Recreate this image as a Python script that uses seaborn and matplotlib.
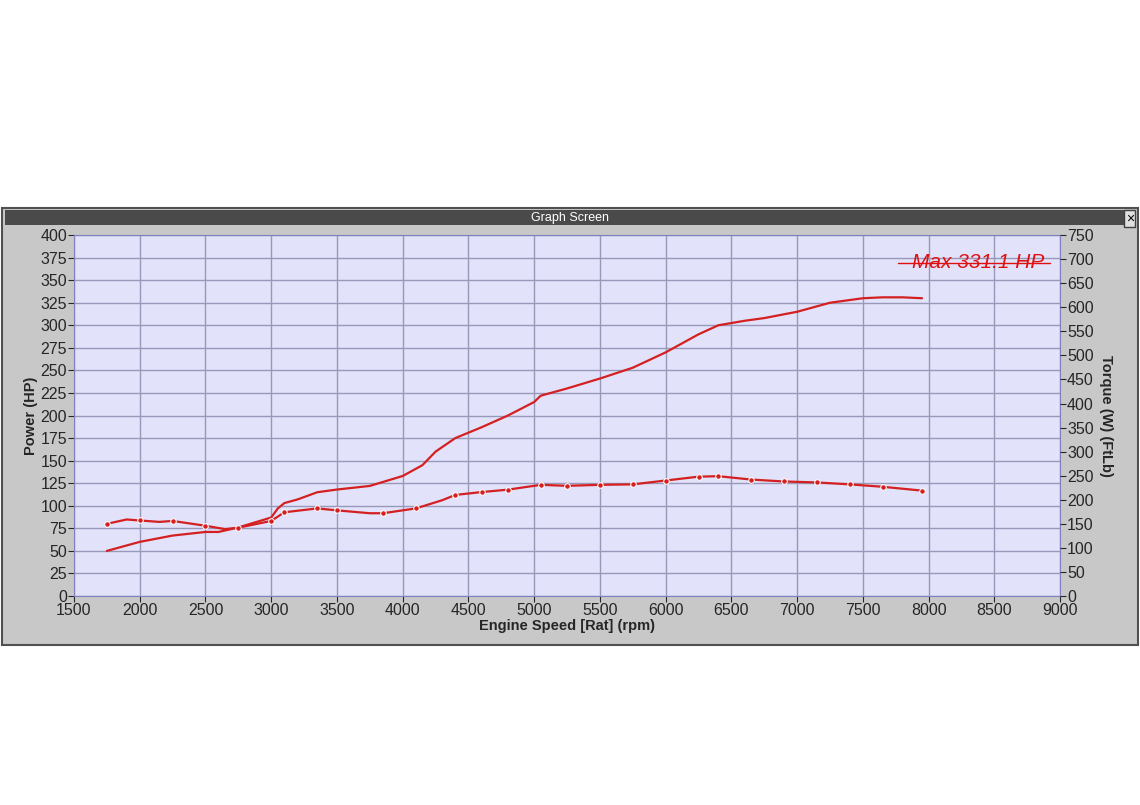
import numpy as np
import matplotlib
matplotlib.use('Agg')
import matplotlib.pyplot as plt
import seaborn as sns
import pandas as pd
from matplotlib.patches import Rectangle

# Power curve (HP)
power_rpm = [1750, 2000, 2250, 2500, 2600, 2750, 3000, 3050, 3100, 3200, 3350, 3500, 3750,
             4000, 4150, 4250, 4400, 4600, 4800, 5000, 5050, 5250, 5500, 5750, 6000, 6250,
             6400, 6600, 6750, 7000, 7250, 7500, 7650, 7800, 7950]
power_hp = [50, 60, 67, 71, 71, 76, 87, 97, 103, 107, 115, 118, 122,
            133, 145, 160, 175, 187, 200, 215, 222, 230, 241, 253, 270, 290,
            300, 305, 308, 315, 325, 330, 331, 331, 330]

# Torque curve (ft-lb)
torque_rpm = [1750, 1900, 2000, 2150, 2250, 2500, 2650, 2750, 3000, 3050, 3100, 3350, 3500,
              3750, 3850, 4100, 4300, 4400, 4600, 4800, 5050, 5250, 5500, 5750, 6000, 6250,
              6400, 6650, 6900, 7150, 7400, 7650, 7950]
torque_ftlb = [150, 159, 157, 154, 156, 146, 139, 142, 156, 165, 174, 182, 178,
               172, 172, 182, 199, 210, 216, 221, 231, 229, 231, 232, 240, 248,
               249, 242, 238, 236, 232, 227, 219]
torque_marks = [0, 2, 4, 5, 7, 8, 10, 11, 12, 14, 15, 17, 18, 19, 20, 21, 22, 23, 24, 25, 26, 27, 28, 29, 30, 31, 32]

df_p = pd.DataFrame({'rpm': power_rpm, 'hp': power_hp})
df_t = pd.DataFrame({'rpm': torque_rpm, 'tq': torque_ftlb})

sns.set_style('white')
plt.rcParams['font.family'] = ['Liberation Sans', 'DejaVu Sans']

fig = plt.figure(figsize=(11.4, 8.05), dpi=100)
fig.patch.set_facecolor('white')

# window frame
fig.patches.append(Rectangle((0.002, 0.199), 0.996, 0.543, transform=fig.transFigure,
                             facecolor='#c8c8c8', edgecolor='#505050', lw=1.5, zorder=-10))
fig.patches.append(Rectangle((0.004, 0.72), 0.992, 0.019, transform=fig.transFigure,
                             facecolor='#4a4a4a', edgecolor='none', zorder=-9))
fig.text(0.5, 0.729, 'Graph Screen', ha='center', va='center', color='white', fontsize=9)
fig.text(0.991, 0.729, '×', ha='center', va='center', color='black', fontsize=10,
         bbox=dict(boxstyle='square,pad=0.1', fc='#e0e0e0', ec='#404040'))

ax = fig.add_axes([0.0649, 0.2596, 0.865, 0.4484])
ax.set_facecolor('#e2e2fa')
sns.lineplot(data=df_p, x='rpm', y='hp', ax=ax, color='#d42020', lw=1.6)
ax.set_xlim(1500, 9000)
ax.set_ylim(0, 400)
ax.set_xticks(np.arange(1500, 9001, 500))
ax.set_yticks(np.arange(0, 401, 25))
ax.grid(True, color='#9898b8', lw=1)
ax.tick_params(labelsize=11.5, length=4, direction='out', left=True, bottom=True, pad=1)
ax.set_xlabel('Engine Speed [Rat] (rpm)', fontsize=10.5, fontweight='bold', labelpad=1)
ax.set_ylabel('Power (HP)', fontsize=10.5, fontweight='bold', labelpad=2)
for s in ax.spines.values():
    s.set_color('#8080c0')

ax2 = ax.twinx()
sns.lineplot(data=df_t, x='rpm', y='tq', ax=ax2, color='#d42020', lw=1.6,
             marker='o', markersize=4, markevery=torque_marks)
ax2.set_ylim(0, 750)
ax2.set_yticks(np.arange(0, 751, 50))
ax2.tick_params(labelsize=11.5, length=4, direction='out', right=True, pad=1)
ax2.set_ylabel('Torque (W) (FtLb)', fontsize=10.5, fontweight='bold', rotation=270, labelpad=14)
for s in ax2.spines.values():
    s.set_visible(False)

ax.text(0.984, 0.95, 'Max 331.1 HP', transform=ax.transAxes, ha='right', va='top',
        color='#e01010', fontsize=15, style='italic')
ax.plot([0.836, 0.99], [0.922, 0.922], transform=ax.transAxes, color='#e01010', lw=1)

fig.savefig('out.png', dpi=100)
